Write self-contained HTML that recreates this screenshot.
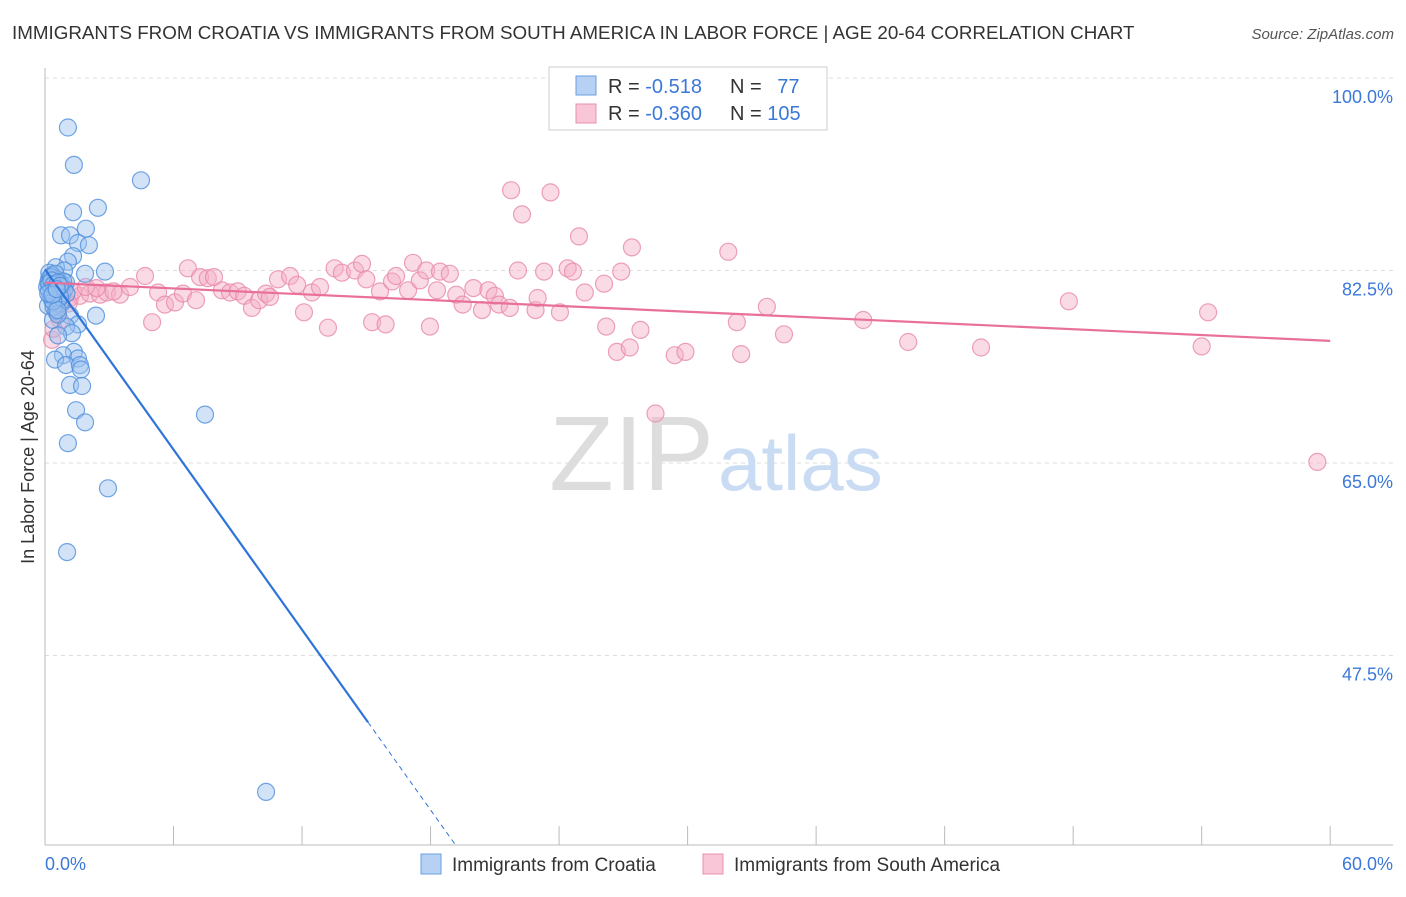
<!DOCTYPE html>
<html><head><meta charset="utf-8">
<style>
body{margin:0;background:#fff;font-family:"Liberation Sans",sans-serif;}
svg text{font-family:"Liberation Sans",sans-serif;}
</style></head>
<body>
<svg width="1406" height="892" viewBox="0 0 1406 892">
<text x="12" y="39" font-size="18.8" fill="#333">IMMIGRANTS FROM CROATIA VS IMMIGRANTS FROM SOUTH AMERICA IN LABOR FORCE | AGE 20-64 CORRELATION CHART</text>
<text x="1394" y="39" font-size="15" fill="#555" font-style="italic" text-anchor="end">Source: ZipAtlas.com</text>
<g id="grid"></g>
<text x="714" y="490" font-size="106" fill="#ddd" font-family="Liberation Serif" text-anchor="end">ZIP</text>
<text x="718" y="490" font-size="78" fill="#c9dcf3">atlas</text>
<g id="axes"></g>
<g id="pink"></g>
<g id="blue"></g>
<g id="lines"></g>
<text transform="translate(34,457) rotate(-90)" font-size="18" fill="#333" text-anchor="middle">In Labor Force | Age 20-64</text>
<g>
<rect x="549" y="67" width="278" height="63" fill="#fff" stroke="#ccc"/>
<rect x="576" y="76" width="20" height="19" fill="#b6d1f3" stroke="#6a9fe0"/>
<rect x="576" y="104" width="20" height="19" fill="#f8c6d6" stroke="#e890ae"/>
<text x="608" y="93" font-size="20" fill="#333">R = <tspan fill="#3b78d8">-0.518</tspan></text>
<text x="730" y="93" font-size="20" fill="#333">N = <tspan fill="#3b78d8" dx="10">77</tspan></text>
<text x="608" y="120" font-size="20" fill="#333">R = <tspan fill="#3b78d8">-0.360</tspan></text>
<text x="730" y="120" font-size="20" fill="#333">N = <tspan fill="#3b78d8">105</tspan></text>
</g>
<g>
<rect x="421" y="854" width="20" height="20" fill="#b6d1f3" stroke="#6a9fe0"/>
<text x="452" y="871" font-size="19" fill="#333">Immigrants from Croatia</text>
<rect x="703" y="854" width="20" height="20" fill="#f8c6d6" stroke="#e890ae"/>
<text x="734" y="871" font-size="19" fill="#333">Immigrants from South America</text>
</g>
</svg>
<script>
const yTicks=[47.5,65,82.5,100];
const yTickLabels=["47.5%","65.0%","82.5%","100.0%"];
const xTickLabels=["0.0%","60.0%"];
const blueX=[1.07,1.35,4.48,2.47,1.31,1.91,0.75,1.17,1.54,2.05,1.31,1.07,0.51,0.89,2.8,1.87,0.33,0.61,0.98,0.23,0.47,0.79,0.33,0.70,0.14,0.51,2.38,1.17,0.37,1.54,0.98,1.26,0.61,1.35,0.84,1.54,0.47,0.98,1.63,1.68,1.17,1.73,1.45,7.47,1.87,1.07,2.94,1.03,10.32,0.2,0.4,0.6,0.3,0.5,0.8,0.25,0.45,0.65,0.15,0.9,0.35,0.55,0.75,0.2,0.4,0.6,1.0,0.3,0.5,0.7,0.28,0.48,0.66,0.18,0.38,0.58,0.85,0.1,0.2,0.3,0.4,0.5,0.6,0.7,0.15,0.35,0.55];
const blueY=[95.5,92.1,90.7,88.2,87.8,86.3,85.7,85.7,85.0,84.8,83.8,83.3,82.8,82.5,82.4,82.2,82.1,81.6,81.4,81.2,80.7,80.3,79.8,79.6,79.3,78.8,78.4,78.4,78.0,77.6,77.4,76.8,76.6,75.1,74.8,74.5,74.4,73.9,73.9,73.5,72.1,72.0,69.8,69.4,68.7,66.8,62.7,56.9,35.1,81.8,81.5,81.0,80.6,80.9,81.2,80.2,80.0,79.9,81.4,80.8,82.0,81.7,79.5,82.3,79.2,78.5,80.4,81.0,80.5,80.1,81.9,82.2,81.1,80.7,79.7,78.9,81.5,81.0,81.3,81.6,81.2,80.9,81.4,81.1,80.4,80.3,80.8];
const pinkX=[0.33,0.7,0.79,1.17,1.63,2.1,2.57,2.89,3.5,3.97,4.67,5.0,5.28,5.6,6.07,6.44,6.67,7.05,7.24,7.6,7.89,8.26,8.64,9.0,9.3,9.66,10.0,10.32,10.5,10.88,11.44,11.77,12.09,12.46,12.84,13.21,13.52,13.86,14.47,14.8,15.0,15.27,15.64,15.9,16.2,16.39,16.95,17.18,17.5,17.8,17.97,18.3,18.44,18.9,19.2,19.5,20.0,20.4,20.7,21.0,21.2,21.7,21.76,22.08,22.27,22.9,23.0,23.3,23.6,24.04,24.4,24.65,24.93,25.2,26.1,26.2,26.7,26.9,27.3,27.4,27.8,28.5,29.4,29.9,31.9,32.3,32.5,33.7,34.5,38.2,40.3,43.7,47.8,54.0,54.3,59.4,0.5,0.9,1.3,1.9,2.4,3.2,0.6,1.1,0.4];
const pinkY=[76.2,78.0,79.8,80.0,80.2,80.4,80.3,80.5,80.3,81.0,82.0,77.8,80.5,79.4,79.6,80.4,82.7,79.8,81.9,81.8,81.9,80.7,80.5,80.6,80.2,79.1,79.8,80.4,80.1,81.7,82.0,81.2,78.7,80.5,81.0,77.3,82.7,82.3,82.5,83.1,81.7,77.8,80.6,77.6,81.5,82.0,80.7,83.2,81.6,82.5,77.4,80.7,82.4,82.2,80.3,79.4,80.9,78.9,80.7,80.2,79.4,79.1,89.8,82.5,87.6,78.9,80.0,82.4,89.6,78.7,82.7,82.4,85.6,80.5,81.3,77.4,75.1,82.4,75.5,84.6,77.1,69.5,74.8,75.1,84.2,77.8,74.9,79.2,76.7,78.0,76.0,75.5,79.7,75.6,78.7,65.1,79.0,80.8,80.6,81.0,80.9,80.6,78.6,79.5,77.2];
const blueTrend=[82.6,-2.73];
const pinkTrend=[81.4,-0.0883];
const blueSolidEnd=15.08, blueDashEnd=19.16;
const X=v=>45+v*21.42, Y=v=>78+(100-v)*11;
const NS="http://www.w3.org/2000/svg";
function mk(t,a,p){const e=document.createElementNS(NS,t);for(const k in a)e.setAttribute(k,a[k]);p.appendChild(e);return e;}
const grid=document.getElementById('grid'),axes=document.getElementById('axes');
yTicks.forEach((t,i)=>{
 const g=mk('line',{x1:45,x2:1393,y1:Y(t),y2:Y(t),stroke:'#ddd','stroke-dasharray':'4,4'},grid);
 
 
 const tx=mk('text',{x:1393,y:Y(t)+25,'font-size':18,fill:'#3b78d8','text-anchor':'end'},axes);
 tx.textContent=yTickLabels[i];
 
 
});
mk('line',{x1:45,x2:45,y1:68,y2:845,stroke:'#bbb'},axes);
mk('line',{x1:45,x2:1393,y1:845,y2:845,stroke:'#bbb'},axes);
for(let i=1;i<=10;i++){const l=mk('line',{x1:X(i*6),x2:X(i*6),y1:826,y2:845,stroke:'#bbb'},axes);
 
 }
[[0,'start',45],[60,'end',1393]].forEach((d,i)=>{const t=mk('text',{x:d[2],y:870,'font-size':18,fill:'#3b78d8','text-anchor':d[1]},axes);t.textContent=xTickLabels[i];
 
 });
function pts(xs,ys,g,fill,stroke,name){xs.forEach((x,i)=>{const c=mk('circle',{cx:X(x),cy:Y(ys[i]),r:8.5,fill:fill,'fill-opacity':0.45,stroke:stroke,'stroke-opacity':0.8,'stroke-width':1.2},g);
 
 });}
pts(pinkX,pinkY,document.getElementById('pink'),'#f5b0c6','#e88aa8','south-america-point');
pts(blueX,blueY,document.getElementById('blue'),'#9cc2f0','#4f8fdc','croatia-point');
const L=document.getElementById('lines');
const b=x=>blueTrend[0]+blueTrend[1]*x, p=x=>pinkTrend[0]+pinkTrend[1]*x;
const bl=mk('line',{x1:X(0),y1:Y(b(0)),x2:X(blueSolidEnd),y2:Y(b(blueSolidEnd)),stroke:'#2f74d8','stroke-width':2.2},L);


const bd=mk('line',{x1:X(blueSolidEnd),y1:Y(b(blueSolidEnd)),x2:X(blueDashEnd),y2:Y(b(blueDashEnd)),stroke:'#2f74d8','stroke-width':1,'stroke-dasharray':'5,4'},L);


const pl=mk('line',{x1:X(0),y1:Y(p(0)),x2:X(60),y2:Y(p(60)),stroke:'#e8709a','stroke-width':2.2},L);


</script>
</body></html>
